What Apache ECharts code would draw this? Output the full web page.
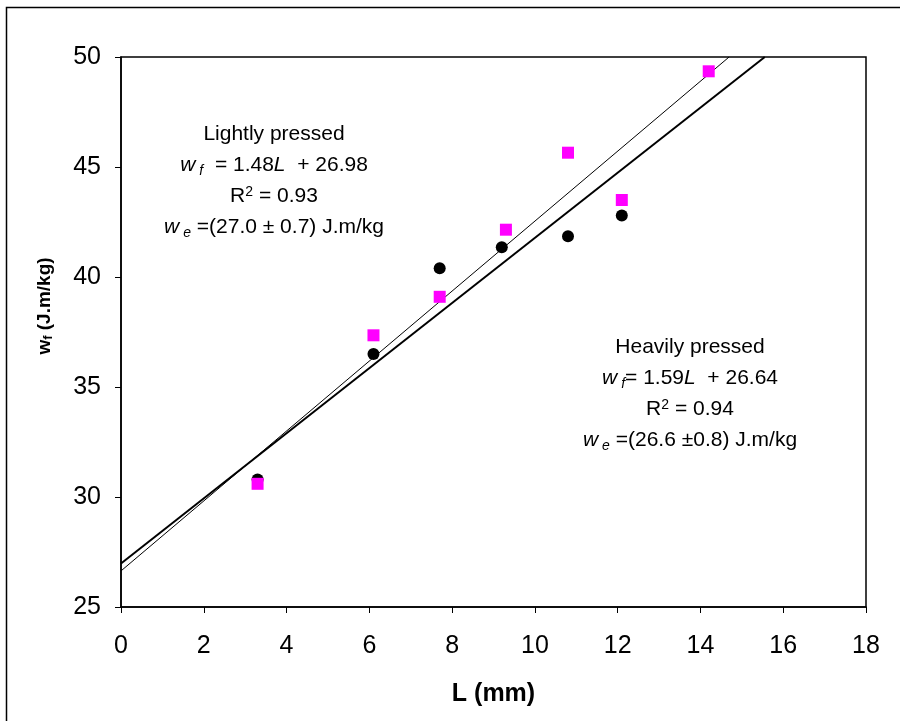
<!DOCTYPE html>
<html>
<head>
<meta charset="utf-8">
<script src="https://cdn.jsdelivr.net/npm/echarts@6/dist/echarts.min.js"></script>
<style>
  html, body { margin: 0; padding: 0; background: #fff; }
  #chart { width: 900px; height: 721px; }
</style>
</head>
<body>
<div id="chart"></div>
<script>
const lightL = [3.3, 6.1, 7.7, 9.2, 10.8, 12.1];
const lightW = [30.8, 36.5, 40.4, 41.35, 41.85, 42.8];
const heavyL = [3.3, 6.1, 7.7, 9.3, 10.8, 12.1, 14.2];
const heavyW = [30.6, 37.35, 39.1, 42.15, 45.65, 43.5, 49.35];

// linear fits as printed on the chart: [slope, intercept]
const lightFit = [1.48, 26.98];
const heavyFit = [1.59, 26.64];

const xTicks = [0, 2, 4, 6, 8, 10, 12, 14, 16, 18];
const yTicks = [25, 30, 35, 40, 45, 50];

const font = '"Liberation Sans", Arial, sans-serif';

const zip = (a, b) => a.map((v, i) => [v, b[i]]);
// fit line from L = 0 up to where it leaves the top of the plot
const fitLine = (f) => [[0, f[1]], [(50 - f[1]) / f[0], 50]];

const chart = echarts.init(document.getElementById('chart'));

const base = { fontSize: 21, fontFamily: font, color: '#000', lineHeight: 31, align: 'center' };
const noteRich = {
    n: base,
    i: Object.assign({}, base, { fontStyle: 'italic' }),
    sub: Object.assign({}, base, { fontSize: 14, fontStyle: 'italic', padding: [12, 0, 0, 4] }),
    sup: Object.assign({}, base, { fontSize: 14, padding: [0, 0, 9, 0] })
};

const option = {
    animation: false,
    backgroundColor: '#fff',
    grid: { left: 121, top: 57, right: 34, bottom: 114, show: true, borderColor: '#000', borderWidth: 1.5 },
    xAxis: {
        type: 'value', min: 0, max: 18, interval: 2,
        name: 'L (mm)', nameLocation: 'middle', nameGap: 75,
        nameTextStyle: { fontSize: 25, fontWeight: 'bold', fontFamily: font, color: '#000' },
        axisLine: { onZero: false, lineStyle: { color: '#000', width: 1.5 } },
        axisTick: { show: true, inside: false, length: 6, lineStyle: { color: '#000' } },
        axisLabel: { fontSize: 25, fontFamily: font, color: '#000', margin: 27 },
        splitLine: { show: false }
    },
    yAxis: {
        type: 'value', min: 25, max: 50, interval: 5,
        axisLine: { onZero: false, lineStyle: { color: '#000', width: 1.5 } },
        axisTick: { show: true, inside: false, length: 6, lineStyle: { color: '#000' } },
        axisLabel: { fontSize: 25, fontFamily: font, color: '#000', margin: 20 },
        splitLine: { show: false }
    },
    series: [
        {
            type: 'line', data: fitLine(heavyFit), showSymbol: false,
            lineStyle: { color: '#000', width: 1 }, z: 2
        },
        {
            type: 'line', data: fitLine(lightFit), showSymbol: false,
            lineStyle: { color: '#000', width: 2 }, z: 2
        },
        {
            type: 'scatter', data: zip(lightL, lightW), symbol: 'circle', symbolSize: 12,
            itemStyle: { color: '#000', opacity: 1 }, z: 3
        },
        {
            type: 'scatter', data: zip(heavyL, heavyW), symbol: 'rect', symbolSize: 12,
            itemStyle: { color: '#ff00ff', opacity: 1 }, z: 4
        }
    ],
    graphic: [
        {
            type: 'rect', silent: true,
            shape: { x: 6.5, y: 7.5, width: 920, height: 740 },
            style: { fill: 'none', stroke: '#000', lineWidth: 1.5 }
        },
        {
            type: 'text', x: 45, y: 306, rotation: Math.PI / 2, silent: true,
            style: {
                align: 'center', verticalAlign: 'middle',
                text: '{b|w}{s|f}{b| (J.m/kg)}',
                rich: {
                    b: { fontSize: 19, fontWeight: 'bold', fontFamily: font, color: '#000' },
                    s: { fontSize: 13, fontWeight: 'bold', fontFamily: font, color: '#000', padding: [6, 0, 0, 0] }
                }
            }
        },
        {
            type: 'text', x: 274, y: 119, silent: true,
            style: {
                align: 'center',
                text: '{n|Lightly pressed}\n{i|w}{sub|f}{n|  = 1.48}{i|L}{n|  + 26.98}\n{n|R}{sup|2}{n| = 0.93}\n{i|w}{sub|e}{n| =(27.0 ± 0.7) J.m/kg}',
                rich: noteRich
            }
        },
        {
            type: 'text', x: 690, y: 332, silent: true,
            style: {
                align: 'center',
                text: '{n|Heavily pressed}\n{i|w}{sub|f}{n|= 1.59}{i|L}{n|  + 26.64}\n{n|R}{sup|2}{n| = 0.94}\n{i|w}{sub|e}{n| =(26.6 ±0.8) J.m/kg}',
                rich: noteRich
            }
        }
    ]
};

chart.setOption(option);
</script>
</body>
</html>
